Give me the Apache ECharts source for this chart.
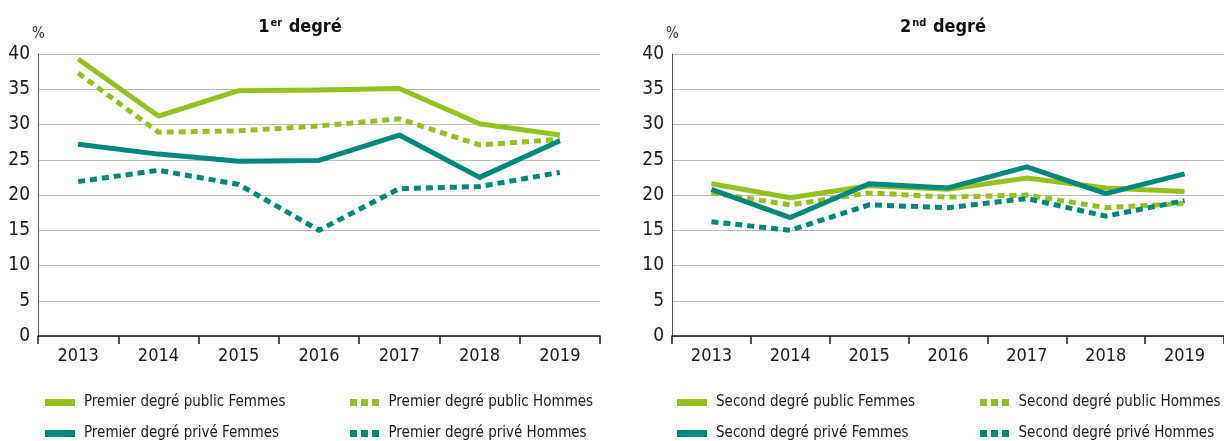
<!DOCTYPE html>
<html>
<head>
<meta charset="utf-8">
<script src="https://cdn.jsdelivr.net/npm/echarts@6/dist/echarts.min.js"></script>
<style>
  html, body { margin: 0; padding: 0; background: #fff; }
  #chart { width: 1224px; height: 441px; }
</style>
</head>
<body>
<div id="chart"></div>
<script>
var years = ["2013", "2014", "2015", "2016", "2017", "2018", "2019"];
var yTicks = [0, 40, 5];

// 1er degre
var premierPublicFemmes = [39.3, 31.2, 34.8, 34.9, 35.1, 30.1, 28.5];
var premierPublicHommes = [37.3, 28.9, 29.1, 29.8, 30.8, 27.1, 27.9];
var premierPriveFemmes = [27.2, 25.8, 24.8, 24.9, 28.5, 22.5, 27.7];
var premierPriveHommes = [21.9, 23.5, 21.5, 15.0, 20.9, 21.2, 23.2];

// 2nd degre
var secondPublicFemmes = [21.6, 19.6, 21.3, 20.8, 22.4, 21.0, 20.5];
var secondPublicHommes = [20.3, 18.6, 20.3, 19.7, 20.0, 18.2, 18.8];
var secondPriveFemmes = [20.8, 16.8, 21.6, 21.0, 24.0, 20.2, 23.0];
var secondPriveHommes = [16.2, 15.0, 18.6, 18.2, 19.5, 17.0, 19.2];

var GREEN = "#95c11f";
var TEAL = "#00897b";
var FONT = "'Liberation Sans Narrow', 'DejaVu Sans Condensed', 'Liberation Sans', sans-serif";

// icones de legende : barre pleine ou trois carres
var ICON_SOLID = "rect";
var ICON_DASH = "path://M0,0h7v7h-7z M11,0h7v7h-7z M22,0h7v7h-7z";

function line(name, data, color, dashed, idx) {
    return {
        name: name,
        type: "line",
        data: data,
        xAxisIndex: idx,
        yAxisIndex: idx,
        symbol: "none",
        silent: true,
        lineStyle: {
            color: color,
            width: 5,
            type: dashed ? [7, 5] : "solid",
            cap: "butt",
            join: "round"
        },
        itemStyle: {color: color}
    };
}

function xAxis(idx) {
    return {
        type: "category",
        gridIndex: idx,
        data: years,
        boundaryGap: true,
        axisLine: {show: true, lineStyle: {color: "#1a1a1a", width: 1.5}},
        axisTick: {show: true, length: 8, lineStyle: {color: "#1a1a1a", width: 1.5}},
        axisLabel: {fontFamily: FONT, fontSize: 18, color: "#1a1a1a", margin: 11},
        splitLine: {show: false}
    };
}

function yAxis(idx) {
    return {
        type: "value",
        gridIndex: idx,
        min: yTicks[0],
        max: yTicks[1],
        interval: yTicks[2],
        name: "%",
        nameLocation: "end",
        nameGap: 12,
        nameTextStyle: {fontFamily: FONT, fontSize: 15, color: "#333", align: "left", padding: [0, 0, 0, -6]},
        axisLine: {show: true, lineStyle: {color: "#555", width: 1}},
        axisTick: {show: false},
        axisLabel: {fontFamily: FONT, fontSize: 19, color: "#1a1a1a", margin: 8},
        splitLine: {show: true, lineStyle: {color: "#bdbdbd", width: 1}}
    };
}

function legendItem(left, top, name, dashed, color) {
    return {
        left: left,
        top: top,
        itemWidth: 30,
        itemHeight: 7,
        itemGap: 10,
        selectedMode: false,
        data: [{name: name, icon: dashed ? ICON_DASH : ICON_SOLID, itemStyle: {color: color}}],
        textStyle: {fontFamily: FONT, fontSize: 15, color: "#1a1a1a", padding: [0, 0, 0, 4]}
    };
}

var titleRich = {
    b: {fontFamily: FONT, fontSize: 18, fontWeight: "bold", color: "#111"},
    s: {fontFamily: FONT, fontSize: 11, fontWeight: "bold", color: "#111", verticalAlign: "top", padding: [0, 1, 8, 1]}
};

var option = {
    animation: false,
    backgroundColor: "#fff",
    title: [
        {text: "{b|1}{s|er}{b| degré}", left: 295, top: 13, textAlign: "center", textStyle: {rich: titleRich}},
        {text: "{b|2}{s|nd}{b| degré}", left: 938, top: 13, textAlign: "center", textStyle: {rich: titleRich}}
    ],
    grid: [
        {left: 38, top: 54, width: 562, height: 282},
        {left: 672, top: 54, width: 562, height: 282}
    ],
    xAxis: [xAxis(0), xAxis(1)],
    yAxis: [yAxis(0), yAxis(1)],
    legend: [
        legendItem(40, 390, "Premier degré public Femmes", false, GREEN),
        legendItem(40, 421, "Premier degré privé Femmes", false, TEAL),
        legendItem(345, 390, "Premier degré public Hommes", true, GREEN),
        legendItem(345, 421, "Premier degré privé Hommes", true, TEAL),
        legendItem(672, 390, "Second degré public Femmes", false, GREEN),
        legendItem(672, 421, "Second degré privé Femmes", false, TEAL),
        legendItem(975, 390, "Second degré public Hommes", true, GREEN),
        legendItem(975, 421, "Second degré privé Hommes", true, TEAL)
    ],
    series: [
        line("Premier degré public Femmes", premierPublicFemmes, GREEN, false, 0),
        line("Premier degré public Hommes", premierPublicHommes, GREEN, true, 0),
        line("Premier degré privé Femmes", premierPriveFemmes, TEAL, false, 0),
        line("Premier degré privé Hommes", premierPriveHommes, TEAL, true, 0),
        line("Second degré public Femmes", secondPublicFemmes, GREEN, false, 1),
        line("Second degré public Hommes", secondPublicHommes, GREEN, true, 1),
        line("Second degré privé Femmes", secondPriveFemmes, TEAL, false, 1),
        line("Second degré privé Hommes", secondPriveHommes, TEAL, true, 1)
    ]
};

var myChart = echarts.init(document.getElementById("chart"), null, {renderer: "canvas"});
myChart.setOption(option);
</script>
</body>
</html>
